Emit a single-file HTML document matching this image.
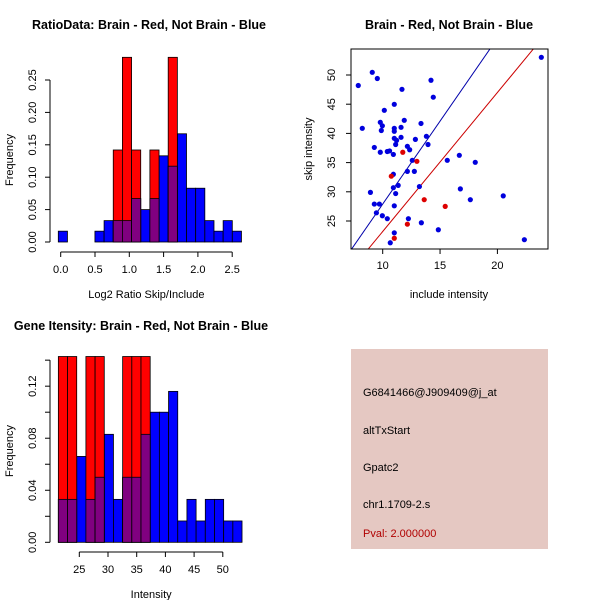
<!DOCTYPE html>
<html><head><meta charset="utf-8"><style>
body{margin:0;background:#fff}
svg{display:block;font-family:"Liberation Sans",sans-serif}
</style></head><body>
<svg id="c" width="600" height="600" viewBox="0 0 600 600">
<rect x="351" y="349" width="197" height="200" fill="#e5c8c2"/>
<g font-size="11" fill="#000">
<text x="363" y="396">G6841466@J909409@j_at</text>
<text x="363" y="434">altTxStart</text>
<text x="363" y="471">Gpatc2</text>
<text x="363" y="508">chr1.1709-2.s</text>
<text x="363" y="537" fill="#b00000">Pval: 2.000000</text>
</g>
</svg>
<script>
// Top-left histogram data (20 bins)
const ratioBlue=[0.0167,0,0,0,0.0167,0.033,0.033,0.033,0.067,0.05,0.067,0.133,0.117,0.167,0.083,0.083,0.033,0.0167,0.033,0.0167];
const ratioRed=[0,0,0,0,0,0,0.142,0.285,0.142,0,0.142,0,0.285,0,0,0,0,0,0,0];
const ratioXTicks=["0.0","0.5","1.0","1.5","2.0","2.5"];
const ratioYTicks=["0.00","0.05","0.10","0.15","0.20","0.25"];
// Bottom-left histogram data (20 bins)
const intBlue=[0.033,0.033,0.066,0.033,0.05,0.083,0.033,0.05,0.05,0.083,0.1,0.1,0.116,0.0164,0.033,0.0164,0.033,0.033,0.0164,0.0164];
const intRed=[0.1428,0.1428,0,0.1428,0.1428,0,0,0.1428,0.1428,0.1428,0,0,0,0,0,0,0,0,0,0];
const intXTicks=["25","30","35","40","45","50"];
const intYTicks=["0.00","0.02","0.04","0.06","0.08","0.10","0.12","0.14"];
// Scatter data
const blueX=[7.87,9.09,9.53,14.21,11.68,14.41,11.01,10.14,8.22,9.79,9.97,9.88,11.01,11.01,11.88,11.6,13.34,11.01,11.21,11.13,11.6,12.85,13.81,13.95,9.27,9.79,10.4,10.6,10.93,12.15,12.35,12.58,15.63,16.68,18.07,10.93,12.15,12.76,11.35,10.93,11.13,8.93,13.2,16.77,17.64,20.51,9.27,9.71,9.45,11.01,9.97,10.4,12.24,13.37,14.85,11.01,10.66,22.35,23.83];
const blueY=[48.2,50.46,49.4,49.1,47.55,46.2,44.98,43.95,40.87,41.9,41.3,40.5,40.87,40.36,42.24,41.04,41.7,39.16,38.8,38.1,39.33,38.98,39.5,38.1,37.6,36.77,36.9,37.0,36.4,37.79,37.2,35.39,35.39,36.25,35.05,33.0,33.5,33.5,31.1,30.7,29.7,29.9,30.9,30.5,28.65,29.3,27.9,27.9,26.4,27.6,25.9,25.4,25.4,24.7,23.5,22.98,21.27,21.8,53.03];
const redX=[11.75,12.98,10.75,13.62,15.45,12.15,11.01];
const redY=[36.77,35.22,32.67,28.65,27.5,24.45,22.05];
const scXTicks=["10","15","20"];
const scYTicks=["25","30","35","40","45","50"];
const blueLine=[2.84,-0.5]; // slope, intercept
const redLine=[2.38,-0.6];

const svg=document.getElementById('c');
const NS='http://www.w3.org/2000/svg';
function mk(tag,at,parent){const e=document.createElementNS(NS,tag);for(const k in at)e.setAttribute(k,at[k]);(parent||svg).appendChild(e);return e;}
function txt(s,at){const e=mk('text',at);e.textContent=s;return e;}

let t;
t=txt("RatioData: Brain - Red, Not Brain - Blue",{x:149,y:29,'font-size':12.5,'font-weight':'bold','text-anchor':'middle'});


t=txt("Brain - Red, Not Brain - Blue",{x:449,y:29,'font-size':12.5,'font-weight':'bold','text-anchor':'middle'});


t=txt("Gene Itensity: Brain - Red, Not Brain - Blue",{x:141,y:330,'font-size':12.5,'font-weight':'bold','text-anchor':'middle'});



function hist(o){
  const xs=v=>o.x0+(v-o.d0)*o.xk, ys=v=>o.y0-v*o.yk;
  o.blue.forEach((v,i)=>{
    const a=o.b0+i*o.bw,b=a+o.bw;
    if(v>0){const r=mk('rect',{x:xs(a),y:ys(v),width:xs(b)-xs(a),height:ys(0)-ys(v),fill:'#0000ff',stroke:'#000','stroke-width':0.8});
    
    }
  });
  o.red.forEach((v,i)=>{
    const a=o.b0+i*o.bw,b=a+o.bw;
    if(v>0){const r=mk('rect',{x:xs(a),y:ys(v),width:xs(b)-xs(a),height:ys(0)-ys(v),fill:'#ff0000',stroke:'#000','stroke-width':0.8});
    
    
    const bv=o.blue[i];
    if(bv>0){const p=mk('rect',{x:xs(a),y:ys(Math.min(bv,v)),width:xs(b)-xs(a),height:ys(0)-ys(Math.min(bv,v)),fill:'#800080',stroke:'#000','stroke-width':0.8});
    
    }}
  });
  const xv=o.xt.map(Number);
  mk('line',{x1:xs(xv[0]),x2:xs(xv[xv.length-1]),y1:o.axY,y2:o.axY,stroke:'#000'});
  o.xt.forEach(s=>{const x=xs(Number(s));mk('line',{x1:x,x2:x,y1:o.axY,y2:o.axY+5,stroke:'#000'});
    const l=txt(s,{x:x,y:o.axY+21,'font-size':11,'text-anchor':'middle'});
    
    });
  const yv=o.yt.map(Number);
  mk('line',{x1:o.axX,x2:o.axX,y1:ys(yv[0]),y2:ys(yv[yv.length-1]),stroke:'#000'});
  o.yt.forEach((s,i)=>{const y=ys(Number(s));mk('line',{x1:o.axX,x2:o.axX-5,y1:y,y2:y,stroke:'#000'});
    if(i%o.ystep!==0)return;
    const l=txt(s,{x:0,y:0,'font-size':11,'text-anchor':'middle',transform:`translate(${o.axX-14},${y}) rotate(-90)`});
    
    });
  const xl=txt(o.xlab,{x:(o.x0+o.xe)/2,y:o.axY+46,'font-size':11,'text-anchor':'middle'});
  
  
  const yl=txt("Frequency",{x:0,y:0,'font-size':11,'text-anchor':'middle',transform:`translate(${o.axX-37},${o.ymid}) rotate(-90)`});
  
  
}
hist({blue:ratioBlue,red:ratioRed,xt:ratioXTicks,yt:ratioYTicks,x0:60.7,d0:0,xk:68.6,y0:242,yk:648,b0:-0.035,bw:0.1335,axY:252,axX:50,xlab:"Log2 Ratio Skip/Include",xe:232,ymid:160,ystep:1});
hist({blue:intBlue,red:intRed,xt:intXTicks,yt:intYTicks,x0:79.3,d0:25,xk:5.74,y0:542.3,yk:1301,b0:21.35,bw:1.6,axY:552,axX:50,xlab:"Intensity",xe:223,ymid:451,ystep:2});

const L=351,R=548,T=49,B=249;
const sx=v=>382.7+(v-10)*11.47, sy=v=>75-(v-50)*5.84;
mk('defs',{}).innerHTML=`<clipPath id="cp"><rect x="${L}" y="${T}" width="${R-L}" height="${B-T}"/></clipPath>`;
const g=mk('g',{'clip-path':'url(#cp)'});
[[blueLine,'#0000aa','blue-fit-line'],[redLine,'#cc0000','red-fit-line']].forEach(([ln,c,n])=>{
  const xa=5,xb=26;
  const l=mk('line',{x1:sx(xa),y1:sy(ln[0]*xa+ln[1]),x2:sx(xb),y2:sy(ln[0]*xb+ln[1]),stroke:c,'stroke-width':1},g);
  
  
});
blueX.forEach((v,i)=>{const c=mk('circle',{cx:sx(v),cy:sy(blueY[i]),r:2.6,fill:'#0000dd'},g);
  
  });
redX.forEach((v,i)=>{const c=mk('circle',{cx:sx(v),cy:sy(redY[i]),r:2.6,fill:'#dd0000'},g);
  
  });
const bx=mk('rect',{x:L,y:T,width:R-L,height:B-T,fill:'none',stroke:'#000'});


scXTicks.forEach(s=>{const x=sx(Number(s));mk('line',{x1:x,x2:x,y1:B,y2:B+5,stroke:'#000'});
  const l=txt(s,{x:x,y:B+20,'font-size':11,'text-anchor':'middle'});
  
  });
scYTicks.forEach(s=>{const y=sy(Number(s));mk('line',{x1:L,x2:L-5,y1:y,y2:y,stroke:'#000'});
  const l=txt(s,{x:0,y:0,'font-size':11,'text-anchor':'middle',transform:`translate(${L-16},${y}) rotate(-90)`});
  
  });
t=txt("include intensity",{x:449,y:298,'font-size':11,'text-anchor':'middle'});


t=txt("skip intensity",{x:0,y:0,'font-size':11,'text-anchor':'middle',transform:'translate(312,149) rotate(-90)'});


</script>
</body></html>
